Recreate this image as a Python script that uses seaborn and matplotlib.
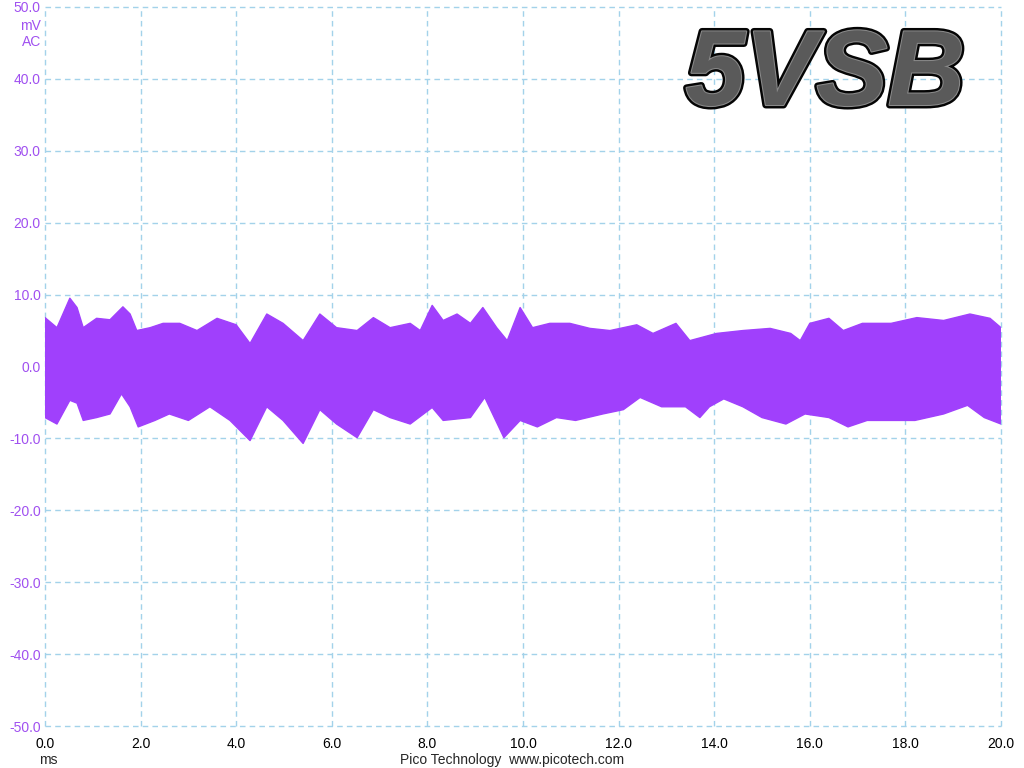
import numpy as np
import pandas as pd
import matplotlib
matplotlib.use("Agg")
import matplotlib.pyplot as plt
import matplotlib.patheffects as pe
import seaborn as sns

# Envelope of the 5VSB ripple, read from the scope capture (ms, mV)
upper_t = [0.0, 0.25, 0.52, 0.67, 0.8, 1.08, 1.36, 1.63, 1.78, 1.92, 2.2, 2.47,
           2.82, 3.18, 3.6, 4.0, 4.29, 4.64, 4.98, 5.4, 5.75, 6.1, 6.53, 6.87,
           7.22, 7.64, 7.85, 8.1, 8.33, 8.62, 8.9, 9.16, 9.45, 9.67, 9.94, 10.2,
           10.56, 10.98, 11.4, 11.82, 12.38, 12.72, 13.2, 13.49, 14.05, 14.6,
           15.17, 15.6, 15.8, 16.0, 16.4, 16.7, 17.1, 17.7, 18.24, 18.8, 19.35,
           19.77, 20.0]
upper_mv = [6.8, 5.4, 9.5, 8.2, 5.4, 6.7, 6.5, 8.3, 7.3, 5.0, 5.4, 6.0,
            6.0, 5.0, 6.7, 5.8, 3.2, 7.3, 6.0, 3.6, 7.3, 5.4, 5.0, 6.8,
            5.4, 6.0, 5.0, 8.5, 6.4, 7.3, 6.0, 8.2, 5.4, 3.6, 8.2, 5.4,
            6.0, 6.0, 5.3, 5.0, 5.8, 4.6, 6.0, 3.6, 4.6, 5.0,
            5.3, 4.6, 3.6, 6.0, 6.7, 5.0, 6.0, 6.0, 6.8, 6.4, 7.3,
            6.7, 5.4]

lower_t = [0.0, 0.25, 0.52, 0.67, 0.8, 1.08, 1.36, 1.6, 1.78, 1.95, 2.3, 2.6,
           3.0, 3.45, 3.87, 4.29, 4.64, 4.98, 5.4, 5.75, 6.1, 6.53, 6.87,
           7.22, 7.64, 8.1, 8.33, 8.9, 9.2, 9.6, 9.94, 10.3, 10.7, 11.1, 11.67,
           12.1, 12.45, 12.9, 13.4, 13.7, 13.9, 14.2, 14.6, 15.0, 15.5, 15.9,
           16.4, 16.8, 17.2, 17.6, 18.2, 18.8, 19.3, 19.65, 20.0]
lower_mv = [-7.1, -8.0, -4.7, -5.1, -7.5, -7.1, -6.6, -3.8, -5.6, -8.4, -7.5, -6.6,
            -7.5, -5.6, -7.5, -10.3, -5.6, -7.5, -10.7, -6.0, -8.0, -9.9, -6.0,
            -7.1, -8.0, -5.7, -7.5, -7.1, -4.3, -9.9, -7.5, -8.4, -7.1, -7.5, -6.6,
            -6.0, -4.3, -5.6, -5.6, -7.1, -5.6, -4.5, -5.6, -7.1, -8.0, -6.6,
            -7.1, -8.4, -7.5, -7.5, -7.5, -6.6, -5.4, -7.1, -8.0]

x_ticks = [0, 2, 4, 6, 8, 10, 12, 14, 16, 18, 20]
y_ticks = [-50, -40, -30, -20, -10, 0, 10, 20, 30, 40, 50]

wave_color = "#a040fc"
label_color = "#a050f0"
grid_color = "#a3d2ea"

sns.set_style("white")
plt.rcParams["font.family"] = ["Liberation Sans", "DejaVu Sans"]

fig = plt.figure(figsize=(10.24, 7.68), dpi=100)
ax = fig.add_axes([45 / 1024, 1 - 726 / 768, 956 / 1024, 719 / 768])

# band between upper and lower envelope
poly_t = upper_t + lower_t[::-1]
poly_v = upper_mv + lower_mv[::-1]
ax.fill(poly_t, poly_v, color=wave_color, linewidth=0, zorder=3)

up = pd.DataFrame({"t": upper_t, "mv": upper_mv})
lo = pd.DataFrame({"t": lower_t, "mv": lower_mv})
sns.lineplot(data=up, x="t", y="mv", ax=ax, color=wave_color, lw=1, zorder=3)
sns.lineplot(data=lo, x="t", y="mv", ax=ax, color=wave_color, lw=1, zorder=3)

ax.set_xlim(0, 20)
ax.set_ylim(-50, 50)
ax.set_xticks(x_ticks)
ax.set_yticks(y_ticks)
ax.set_xticklabels([f"{v:.1f}" for v in x_ticks], fontsize=10, color="black")
ax.set_yticklabels([f"{v:.1f}" for v in y_ticks], fontsize=10, color=label_color)
ax.tick_params(axis="x", length=0, pad=8)
ax.tick_params(axis="y", length=0, pad=3)
ax.set_xlabel("")
ax.set_ylabel("")

for s in ax.spines.values():
    s.set_visible(False)
ax.grid(False)
dash = (0, (4, 3))
for v in x_ticks:
    ax.axvline(v, color=grid_color, linestyle=dash, linewidth=1, zorder=1, clip_on=False)
for v in y_ticks:
    ax.axhline(v, color=grid_color, linestyle=dash, linewidth=1, zorder=1, clip_on=False)

fig.text(41 / 1024, 1 - 26 / 768, "mV", ha="right", va="center",
         fontsize=10, color=label_color)
fig.text(41 / 1024, 1 - 42 / 768, "AC", ha="right", va="center",
         fontsize=10, color=label_color)
fig.text(48 / 1024, 1 - 760 / 768, "ms", ha="center", va="center", fontsize=10)
fig.text(512 / 1024, 1 - 760 / 768, "Pico Technology  www.picotech.com",
         ha="center", va="center", fontsize=10)

# big channel label: dark outline with a grey core
fig.text(965 / 1024, 1 - 105 / 768, "5VSB", ha="right", va="baseline",
         fontsize=77, fontweight="bold", fontstyle="italic", color="#5a5a5a",
         zorder=5,
         path_effects=[pe.withStroke(linewidth=5, foreground="#050505"),
                       pe.Normal(),
                       pe.Stroke(linewidth=1.5, foreground="#8a8a8a"),
                       pe.Normal()])

fig.savefig("out.png", dpi=100)
